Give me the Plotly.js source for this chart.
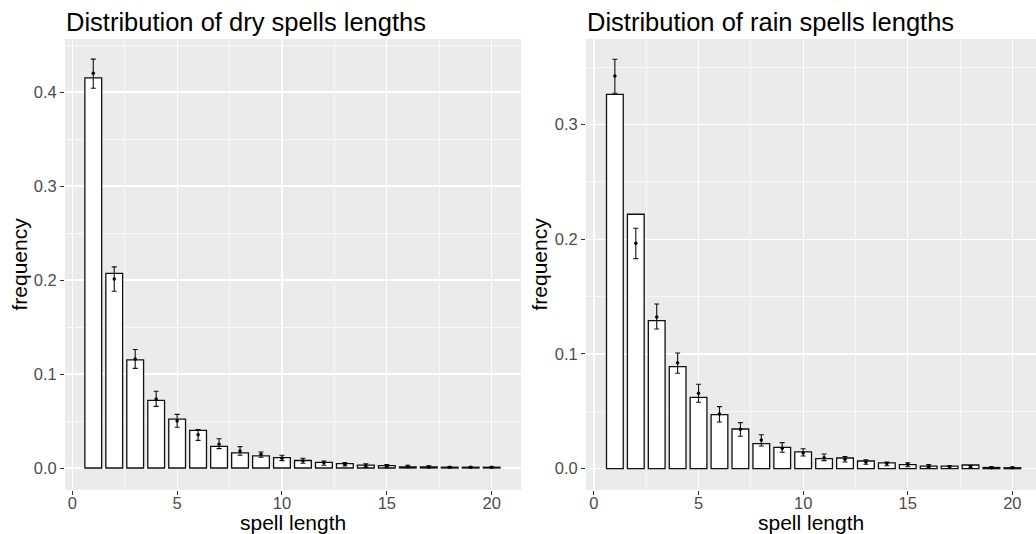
<!DOCTYPE html>
<html>
<head>
<meta charset="utf-8">
<script src="https://cdn.plot.ly/plotly-3.0.1.min.js"></script>
<style>
  html, body { margin: 0; padding: 0; background: #fff; }
  #chart { width: 1036px; height: 534px; }
</style>
</head>
<body>
<div id="chart"></div>
<script>
// Spell lengths (days) shared by both panels
const spellLength = [1, 2, 3, 4, 5, 6, 7, 8, 9, 10, 11, 12, 13, 14, 15, 16, 17, 18, 19, 20];

// Dry spells: observed frequency (bars), model estimate (points) and its interval
const dryFreq = [0.415, 0.207, 0.115, 0.072, 0.052, 0.040, 0.023, 0.016, 0.013, 0.011, 0.008, 0.006, 0.0046, 0.003, 0.0025, 0.0012, 0.0012, 0.0008, 0.0008, 0.0008];
const dryEst  = [0.420, 0.201, 0.116, 0.0735, 0.050, 0.0355, 0.0252, 0.018, 0.0146, 0.0103, 0.0078, 0.0057, 0.004, 0.0025, 0.0018, 0.0015, 0.0012, 0.0008, 0.0008, 0.0008];
const dryLow  = [0.404, 0.188, 0.106, 0.0656, 0.0433, 0.0294, 0.0206, 0.0135, 0.0114, 0.0078, 0.005, 0.0029, 0.0021, 0.0007, 0.0004, 0.0002, 0.0003, 0.0002, 0.0003, 0.0003];
const dryHigh = [0.435, 0.214, 0.126, 0.0816, 0.0571, 0.0408, 0.0312, 0.0227, 0.017, 0.0135, 0.0103, 0.0074, 0.0057, 0.0046, 0.0036, 0.003, 0.0023, 0.0015, 0.0013, 0.0013];

// Rain spells: observed frequency (bars), model estimate (points) and its interval
const rainFreq = [0.3264, 0.2218, 0.129, 0.0889, 0.0622, 0.0471, 0.0346, 0.0218, 0.0186, 0.0146, 0.0087, 0.0093, 0.0067, 0.005, 0.0035, 0.0023, 0.0023, 0.0032, 0.001, 0.0008];
const rainEst  = [0.3424, 0.1965, 0.1323, 0.0924, 0.0657, 0.0477, 0.0343, 0.025, 0.0178, 0.0137, 0.0096, 0.0082, 0.0058, 0.0044, 0.0038, 0.0017, 0.0015, 0.0017, 0.0009, 0.0008];
const rainLow  = [0.3273, 0.1831, 0.1218, 0.0832, 0.0579, 0.0407, 0.0282, 0.0198, 0.0143, 0.0111, 0.007, 0.0058, 0.0038, 0.0026, 0.0017, 0.0005, 0.0004, 0.0006, 0.0003, 0.0002];
const rainHigh = [0.357, 0.2096, 0.1436, 0.1009, 0.0736, 0.0541, 0.0401, 0.0296, 0.0227, 0.0174, 0.0128, 0.0105, 0.0078, 0.0058, 0.0052, 0.0035, 0.0026, 0.0028, 0.0016, 0.0014];

const panelTitles = ['Distribution of dry spells lengths', 'Distribution of rain spells lengths'];
const xTitle = 'spell length';
const yTitle = 'frequency';

const FONT = 'Liberation Sans, Arial, Helvetica, sans-serif';

function barTrace(y, xa, ya) {
  return {
    type: 'bar', x: spellLength, y: y, xaxis: xa, yaxis: ya, width: 0.8,
    marker: { color: '#ffffff', line: { color: '#111111', width: 1.3 } },
    hoverinfo: 'skip'
  };
}

function estTrace(est, low, high, xa, ya) {
  return {
    type: 'scatter', mode: 'markers', x: spellLength, y: est, xaxis: xa, yaxis: ya,
    marker: { color: '#000000', size: 3.5 },
    error_y: {
      type: 'data', symmetric: false,
      array: high.map((h, i) => h - est[i]),
      arrayminus: low.map((l, i) => est[i] - l),
      color: '#111111', thickness: 1.1, width: 2.5
    },
    hoverinfo: 'skip'
  };
}

const data = [
  barTrace(dryFreq, 'x', 'y'),
  estTrace(dryEst, dryLow, dryHigh, 'x', 'y'),
  barTrace(rainFreq, 'x2', 'y2'),
  estTrace(rainEst, rainLow, rainHigh, 'x2', 'y2')
];

function xAxis(domain, range, anchor) {
  return {
    domain: domain, range: range, anchor: anchor,
    tick0: 0, dtick: 5, ticks: 'outside', ticklen: 4, tickwidth: 1, tickcolor: '#333333',
    ticklabelstandoff: -6,
    tickfont: { family: FONT, size: 16.5, color: '#4D4D4D' },
    showgrid: true, gridcolor: '#ffffff', gridwidth: 1.2,
    minor: { tick0: 0, dtick: 2.5, showgrid: true, gridcolor: '#ffffff', gridwidth: 0.6 },
    zeroline: false, showline: false, fixedrange: true
  };
}

function yAxis(domain, range, anchor) {
  return {
    domain: domain, range: range, anchor: anchor,
    tick0: 0, dtick: 0.1, tickformat: '.1f', ticks: 'outside', ticklen: 4, tickwidth: 1, tickcolor: '#333333',
    tickfont: { family: FONT, size: 16.5, color: '#4D4D4D' },
    showgrid: true, gridcolor: '#ffffff', gridwidth: 1.2,
    minor: { tick0: 0, dtick: 0.05, showgrid: true, gridcolor: '#ffffff', gridwidth: 0.6 },
    zeroline: false, showline: false, fixedrange: true
  };
}

const W = 1036, H = 534;
const yDom = [(H - 490) / H, (H - 39) / H];

const layout = {
  width: W, height: H,
  margin: { l: 0, r: 0, t: 0, b: 0 },
  paper_bgcolor: '#ffffff', plot_bgcolor: '#EBEBEB',
  showlegend: false, bargap: 0,
  font: { family: FONT },
  xaxis: xAxis([65 / W, 521 / W], [-0.348, 21.40], 'y'),
  yaxis: yAxis(yDom, [-0.0234, 0.4564], 'x'),
  xaxis2: xAxis([586 / W, 1], [-0.38, 21.13], 'y2'),
  yaxis2: yAxis(yDom, [-0.0186, 0.3746], 'x2'),
  annotations: [
    { text: panelTitles[0], xref: 'paper', yref: 'paper', x: 64 / W, y: (H - 22) / H,
      xanchor: 'left', yanchor: 'middle', showarrow: false, font: { family: FONT, size: 25.5, color: '#000' } },
    { text: panelTitles[1], xref: 'paper', yref: 'paper', x: 585 / W, y: (H - 22) / H,
      xanchor: 'left', yanchor: 'middle', showarrow: false, font: { family: FONT, size: 25.5, color: '#000' } },
    { text: xTitle, xref: 'paper', yref: 'paper', x: 293 / W, y: (H - 522) / H,
      xanchor: 'center', yanchor: 'middle', showarrow: false, font: { family: FONT, size: 21, color: '#000' } },
    { text: xTitle, xref: 'paper', yref: 'paper', x: 811 / W, y: (H - 522) / H,
      xanchor: 'center', yanchor: 'middle', showarrow: false, font: { family: FONT, size: 21, color: '#000' } },
    { text: yTitle, xref: 'paper', yref: 'paper', x: 19 / W, y: (H - 264.5) / H, textangle: -90,
      xanchor: 'center', yanchor: 'middle', showarrow: false, font: { family: FONT, size: 21, color: '#000' } },
    { text: yTitle, xref: 'paper', yref: 'paper', x: 539 / W, y: (H - 264.5) / H, textangle: -90,
      xanchor: 'center', yanchor: 'middle', showarrow: false, font: { family: FONT, size: 21, color: '#000' } }
  ]
};

Plotly.newPlot('chart', data, layout, { staticPlot: true, displayModeBar: false });
</script>
</body>
</html>
